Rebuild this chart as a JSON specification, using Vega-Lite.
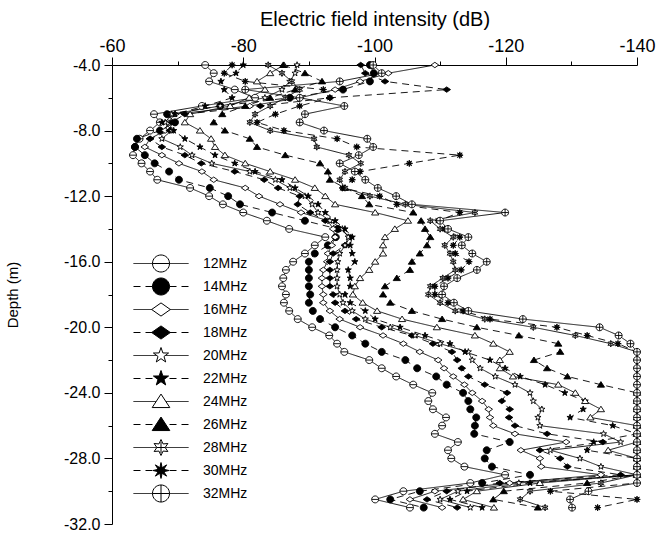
{
"$schema":"https://vega.github.io/schema/vega-lite/v6.json",
"width":525,"height":459,
"padding":{"left":5,"top":9,"right":2,"bottom":10},
"background":"white",
"config":{"view":{"stroke":null},"font":"Liberation Sans",
"locale":{"number":{"decimal":".","thousands":",","grouping":[3],"currency":["$",""],"minus":"-"}}},
"data":{"values":[
{"f":"12MHz","d":-4,"e":-74.2},{"f":"12MHz","d":-4.5,"e":-75.5},{"f":"12MHz","d":-5,"e":-74.8},{"f":"12MHz","d":-5.5,"e":-78.7},{"f":"12MHz","d":-6,"e":-81.8},{"f":"12MHz","d":-6.5,"e":-73.7},{"f":"12MHz","d":-7,"e":-66.4},{"f":"12MHz","d":-7.5,"e":-67.3},{"f":"12MHz","d":-8,"e":-65.8},{"f":"12MHz","d":-8.5,"e":-64.2},{"f":"12MHz","d":-9,"e":-63.5},{"f":"12MHz","d":-9.5,"e":-63.2},{"f":"12MHz","d":-10,"e":-64.5},{"f":"12MHz","d":-10.5,"e":-65.8},{"f":"12MHz","d":-11,"e":-66.9},{"f":"12MHz","d":-11.5,"e":-71.9},{"f":"12MHz","d":-12,"e":-74.8},{"f":"12MHz","d":-12.5,"e":-76.9},{"f":"12MHz","d":-13,"e":-80.0},{"f":"12MHz","d":-13.5,"e":-83.6},{"f":"12MHz","d":-14,"e":-87.0},{"f":"12MHz","d":-14.5,"e":-92.5},{"f":"12MHz","d":-15,"e":-90.9},{"f":"12MHz","d":-15.5,"e":-89.4},{"f":"12MHz","d":-16,"e":-87.6},{"f":"12MHz","d":-16.5,"e":-86.5},{"f":"12MHz","d":-17,"e":-86.1},{"f":"12MHz","d":-17.5,"e":-85.9},{"f":"12MHz","d":-18,"e":-86.5},{"f":"12MHz","d":-18.5,"e":-86.2},{"f":"12MHz","d":-19,"e":-87.0},{"f":"12MHz","d":-19.5,"e":-88.3},{"f":"12MHz","d":-20,"e":-90.5},{"f":"12MHz","d":-20.5,"e":-93.1},{"f":"12MHz","d":-21,"e":-94.3},{"f":"12MHz","d":-21.5,"e":-95.4},{"f":"12MHz","d":-22,"e":-99.2},{"f":"12MHz","d":-22.5,"e":-101.1},{"f":"12MHz","d":-23,"e":-103.3},{"f":"12MHz","d":-23.5,"e":-105.9},{"f":"12MHz","d":-24,"e":-108.8},{"f":"12MHz","d":-24.5,"e":-108.2},{"f":"12MHz","d":-25,"e":-108.9},{"f":"12MHz","d":-25.5,"e":-110.9},{"f":"12MHz","d":-26,"e":-110.3},{"f":"12MHz","d":-26.5,"e":-109.2},{"f":"12MHz","d":-27,"e":-112.7},{"f":"12MHz","d":-27.5,"e":-111.2},{"f":"12MHz","d":-28,"e":-111.7},{"f":"12MHz","d":-28.5,"e":-113.7},{"f":"12MHz","d":-29,"e":-119.9},{"f":"12MHz","d":-29.5,"e":-114.6},{"f":"12MHz","d":-30,"e":-104.4},{"f":"12MHz","d":-30.5,"e":-100.1},{"f":"12MHz","d":-31,"e":-105.4},
{"f":"14MHz","d":-4,"e":-99.3},{"f":"14MHz","d":-4.5,"e":-99.9},{"f":"14MHz","d":-5,"e":-99.3},{"f":"14MHz","d":-5.5,"e":-95.2},{"f":"14MHz","d":-6,"e":-87.1},{"f":"14MHz","d":-6.5,"e":-76.5},{"f":"14MHz","d":-7,"e":-68.4},{"f":"14MHz","d":-7.5,"e":-69.6},{"f":"14MHz","d":-8,"e":-67.3},{"f":"14MHz","d":-8.5,"e":-63.8},{"f":"14MHz","d":-9,"e":-63.5},{"f":"14MHz","d":-9.5,"e":-65.0},{"f":"14MHz","d":-10,"e":-66.5},{"f":"14MHz","d":-10.5,"e":-68.7},{"f":"14MHz","d":-11,"e":-70.2},{"f":"14MHz","d":-11.5,"e":-74.9},{"f":"14MHz","d":-12,"e":-77.7},{"f":"14MHz","d":-12.5,"e":-79.5},{"f":"14MHz","d":-13,"e":-84.4},{"f":"14MHz","d":-13.5,"e":-89.4},{"f":"14MHz","d":-14,"e":-94.4},{"f":"14MHz","d":-14.5,"e":-94.1},{"f":"14MHz","d":-15,"e":-92.9},{"f":"14MHz","d":-15.5,"e":-90.9},{"f":"14MHz","d":-16,"e":-90.0},{"f":"14MHz","d":-16.5,"e":-90.0},{"f":"14MHz","d":-17,"e":-90.0},{"f":"14MHz","d":-17.5,"e":-90.0},{"f":"14MHz","d":-18,"e":-90.2},{"f":"14MHz","d":-18.5,"e":-90.0},{"f":"14MHz","d":-19,"e":-90.6},{"f":"14MHz","d":-19.5,"e":-91.7},{"f":"14MHz","d":-20,"e":-94.0},{"f":"14MHz","d":-20.5,"e":-96.6},{"f":"14MHz","d":-21,"e":-98.6},{"f":"14MHz","d":-21.5,"e":-101.1},{"f":"14MHz","d":-22,"e":-104.7},{"f":"14MHz","d":-22.5,"e":-106.5},{"f":"14MHz","d":-23,"e":-109.4},{"f":"14MHz","d":-23.5,"e":-111.0},{"f":"14MHz","d":-24,"e":-113.5},{"f":"14MHz","d":-24.5,"e":-114.3},{"f":"14MHz","d":-25,"e":-114.6},{"f":"14MHz","d":-25.5,"e":-115.5},{"f":"14MHz","d":-26,"e":-115.3},{"f":"14MHz","d":-26.5,"e":-115.2},{"f":"14MHz","d":-27,"e":-120.6},{"f":"14MHz","d":-27.5,"e":-117.1},{"f":"14MHz","d":-28,"e":-116.8},{"f":"14MHz","d":-28.5,"e":-117.9},{"f":"14MHz","d":-29,"e":-123.7},{"f":"14MHz","d":-29.5,"e":-116.4},{"f":"14MHz","d":-30,"e":-106.9},{"f":"14MHz","d":-30.5,"e":-102.4},{"f":"14MHz","d":-31,"e":-107.5},
{"f":"16MHz","d":-4,"e":-109.2},{"f":"16MHz","d":-4.5,"e":-102.1},{"f":"16MHz","d":-5,"e":-97.8},{"f":"16MHz","d":-5.5,"e":-94.0},{"f":"16MHz","d":-6,"e":-88.6},{"f":"16MHz","d":-6.5,"e":-81.0},{"f":"16MHz","d":-7,"e":-69.6},{"f":"16MHz","d":-7.5,"e":-68.5},{"f":"16MHz","d":-8,"e":-68.1},{"f":"16MHz","d":-8.5,"e":-65.8},{"f":"16MHz","d":-9,"e":-65.0},{"f":"16MHz","d":-9.5,"e":-67.6},{"f":"16MHz","d":-10,"e":-70.2},{"f":"16MHz","d":-10.5,"e":-73.7},{"f":"16MHz","d":-11,"e":-75.5},{"f":"16MHz","d":-11.5,"e":-80.3},{"f":"16MHz","d":-12,"e":-82.4},{"f":"16MHz","d":-12.5,"e":-85.6},{"f":"16MHz","d":-13,"e":-88.8},{"f":"16MHz","d":-13.5,"e":-92.9},{"f":"16MHz","d":-14,"e":-93.7},{"f":"16MHz","d":-14.5,"e":-94.0},{"f":"16MHz","d":-15,"e":-93.5},{"f":"16MHz","d":-15.5,"e":-92.9},{"f":"16MHz","d":-16,"e":-92.8},{"f":"16MHz","d":-16.5,"e":-92.2},{"f":"16MHz","d":-17,"e":-92.0},{"f":"16MHz","d":-17.5,"e":-92.0},{"f":"16MHz","d":-18,"e":-92.2},{"f":"16MHz","d":-18.5,"e":-92.2},{"f":"16MHz","d":-19,"e":-93.2},{"f":"16MHz","d":-19.5,"e":-94.7},{"f":"16MHz","d":-20,"e":-97.8},{"f":"16MHz","d":-20.5,"e":-101.3},{"f":"16MHz","d":-21,"e":-104.4},{"f":"16MHz","d":-21.5,"e":-106.9},{"f":"16MHz","d":-22,"e":-109.7},{"f":"16MHz","d":-22.5,"e":-110.6},{"f":"16MHz","d":-23,"e":-112.0},{"f":"16MHz","d":-23.5,"e":-113.7},{"f":"16MHz","d":-24,"e":-114.9},{"f":"16MHz","d":-24.5,"e":-116.4},{"f":"16MHz","d":-25,"e":-117.4},{"f":"16MHz","d":-25.5,"e":-117.6},{"f":"16MHz","d":-26,"e":-118.1},{"f":"16MHz","d":-26.5,"e":-121.4},{"f":"16MHz","d":-27,"e":-129.2},{"f":"16MHz","d":-27.5,"e":-122.3},{"f":"16MHz","d":-28,"e":-125.2},{"f":"16MHz","d":-28.5,"e":-125.4},{"f":"16MHz","d":-29,"e":-134.5},{"f":"16MHz","d":-29.5,"e":-120.6},{"f":"16MHz","d":-30,"e":-109.2},{"f":"16MHz","d":-30.5,"e":-105.4},{"f":"16MHz","d":-31,"e":-110.3},
{"f":"18MHz","d":-4,"e":-97.9},{"f":"18MHz","d":-4.5,"e":-98.6},{"f":"18MHz","d":-5,"e":-101.6},{"f":"18MHz","d":-5.5,"e":-111.0},{"f":"18MHz","d":-6,"e":-93.2},{"f":"18MHz","d":-6.5,"e":-82.6},{"f":"18MHz","d":-7,"e":-71.1},{"f":"18MHz","d":-7.5,"e":-69.1},{"f":"18MHz","d":-8,"e":-68.8},{"f":"18MHz","d":-8.5,"e":-65.8},{"f":"18MHz","d":-9,"e":-67.6},{"f":"18MHz","d":-9.5,"e":-71.1},{"f":"18MHz","d":-10,"e":-73.6},{"f":"18MHz","d":-10.5,"e":-78.7},{"f":"18MHz","d":-11,"e":-83.2},{"f":"18MHz","d":-11.5,"e":-85.3},{"f":"18MHz","d":-12,"e":-88.6},{"f":"18MHz","d":-12.5,"e":-88.3},{"f":"18MHz","d":-13,"e":-90.2},{"f":"18MHz","d":-13.5,"e":-92.5},{"f":"18MHz","d":-14,"e":-94.7},{"f":"18MHz","d":-14.5,"e":-96.3},{"f":"18MHz","d":-15,"e":-95.5},{"f":"18MHz","d":-15.5,"e":-93.7},{"f":"18MHz","d":-16,"e":-93.2},{"f":"18MHz","d":-16.5,"e":-93.2},{"f":"18MHz","d":-17,"e":-93.2},{"f":"18MHz","d":-17.5,"e":-93.2},{"f":"18MHz","d":-18,"e":-93.7},{"f":"18MHz","d":-18.5,"e":-94.0},{"f":"18MHz","d":-19,"e":-95.5},{"f":"18MHz","d":-19.5,"e":-97.2},{"f":"18MHz","d":-20,"e":-101.1},{"f":"18MHz","d":-20.5,"e":-105.7},{"f":"18MHz","d":-21,"e":-108.9},{"f":"18MHz","d":-21.5,"e":-111.8},{"f":"18MHz","d":-22,"e":-112.6},{"f":"18MHz","d":-22.5,"e":-113.3},{"f":"18MHz","d":-23,"e":-114.3},{"f":"18MHz","d":-23.5,"e":-116.8},{"f":"18MHz","d":-24,"e":-120.2},{"f":"18MHz","d":-24.5,"e":-119.4},{"f":"18MHz","d":-25,"e":-120.6},{"f":"18MHz","d":-25.5,"e":-120.5},{"f":"18MHz","d":-26,"e":-121.4},{"f":"18MHz","d":-26.5,"e":-126.3},{"f":"18MHz","d":-27,"e":-134.8},{"f":"18MHz","d":-27.5,"e":-125.2},{"f":"18MHz","d":-28,"e":-128.3},{"f":"18MHz","d":-28.5,"e":-129.4},{"f":"18MHz","d":-29,"e":-137.5},{"f":"18MHz","d":-29.5,"e":-119.1},{"f":"18MHz","d":-30,"e":-111.0},{"f":"18MHz","d":-30.5,"e":-108.0},{"f":"18MHz","d":-31,"e":-112.6},
{"f":"20MHz","d":-4,"e":-88.2},{"f":"20MHz","d":-4.5,"e":-87.9},{"f":"20MHz","d":-5,"e":-87.1},{"f":"20MHz","d":-5.5,"e":-85.9},{"f":"20MHz","d":-6,"e":-83.3},{"f":"20MHz","d":-6.5,"e":-76.5},{"f":"20MHz","d":-7,"e":-69.1},{"f":"20MHz","d":-7.5,"e":-68.1},{"f":"20MHz","d":-8,"e":-69.1},{"f":"20MHz","d":-8.5,"e":-67.6},{"f":"20MHz","d":-9,"e":-70.4},{"f":"20MHz","d":-9.5,"e":-72.2},{"f":"20MHz","d":-10,"e":-75.2},{"f":"20MHz","d":-10.5,"e":-81.0},{"f":"20MHz","d":-11,"e":-84.9},{"f":"20MHz","d":-11.5,"e":-87.1},{"f":"20MHz","d":-12,"e":-89.4},{"f":"20MHz","d":-12.5,"e":-90.5},{"f":"20MHz","d":-13,"e":-91.4},{"f":"20MHz","d":-13.5,"e":-93.2},{"f":"20MHz","d":-14,"e":-95.1},{"f":"20MHz","d":-14.5,"e":-96.0},{"f":"20MHz","d":-15,"e":-95.5},{"f":"20MHz","d":-15.5,"e":-94.7},{"f":"20MHz","d":-16,"e":-94.4},{"f":"20MHz","d":-16.5,"e":-94.3},{"f":"20MHz","d":-17,"e":-94.3},{"f":"20MHz","d":-17.5,"e":-94.3},{"f":"20MHz","d":-18,"e":-94.7},{"f":"20MHz","d":-18.5,"e":-95.2},{"f":"20MHz","d":-19,"e":-96.6},{"f":"20MHz","d":-19.5,"e":-98.6},{"f":"20MHz","d":-20,"e":-102.4},{"f":"20MHz","d":-20.5,"e":-106.2},{"f":"20MHz","d":-21,"e":-110.0},{"f":"20MHz","d":-21.5,"e":-114.3},{"f":"20MHz","d":-22,"e":-114.9},{"f":"20MHz","d":-22.5,"e":-116.1},{"f":"20MHz","d":-23,"e":-118.4},{"f":"20MHz","d":-23.5,"e":-121.4},{"f":"20MHz","d":-24,"e":-123.7},{"f":"20MHz","d":-24.5,"e":-124.2},{"f":"20MHz","d":-25,"e":-125.5},{"f":"20MHz","d":-25.5,"e":-124.9},{"f":"20MHz","d":-26,"e":-125.2},{"f":"20MHz","d":-26.5,"e":-134.9},{"f":"20MHz","d":-27,"e":-137.5},{"f":"20MHz","d":-27.5,"e":-126.8},{"f":"20MHz","d":-28,"e":-131.3},{"f":"20MHz","d":-28.5,"e":-134.5},{"f":"20MHz","d":-29,"e":-140.0},{"f":"20MHz","d":-29.5,"e":-122.0},{"f":"20MHz","d":-30,"e":-112.7},{"f":"20MHz","d":-30.5,"e":-110.0},{"f":"20MHz","d":-31,"e":-114.6},
{"f":"22MHz","d":-4,"e":-80.0},{"f":"22MHz","d":-4.5,"e":-78.9},{"f":"22MHz","d":-5,"e":-76.6},{"f":"22MHz","d":-5.5,"e":-77.1},{"f":"22MHz","d":-6,"e":-78.3},{"f":"22MHz","d":-6.5,"e":-74.2},{"f":"22MHz","d":-7,"e":-69.6},{"f":"22MHz","d":-7.5,"e":-67.6},{"f":"22MHz","d":-8,"e":-69.4},{"f":"22MHz","d":-8.5,"e":-71.1},{"f":"22MHz","d":-9,"e":-73.4},{"f":"22MHz","d":-9.5,"e":-75.7},{"f":"22MHz","d":-10,"e":-78.7},{"f":"22MHz","d":-10.5,"e":-81.8},{"f":"22MHz","d":-11,"e":-85.9},{"f":"22MHz","d":-11.5,"e":-87.9},{"f":"22MHz","d":-12,"e":-89.9},{"f":"22MHz","d":-12.5,"e":-91.4},{"f":"22MHz","d":-13,"e":-92.5},{"f":"22MHz","d":-13.5,"e":-94.0},{"f":"22MHz","d":-14,"e":-95.5},{"f":"22MHz","d":-14.5,"e":-96.6},{"f":"22MHz","d":-15,"e":-96.3},{"f":"22MHz","d":-15.5,"e":-96.6},{"f":"22MHz","d":-16,"e":-97.0},{"f":"22MHz","d":-16.5,"e":-96.0},{"f":"22MHz","d":-17,"e":-96.3},{"f":"22MHz","d":-17.5,"e":-96.3},{"f":"22MHz","d":-18,"e":-95.5},{"f":"22MHz","d":-18.5,"e":-96.3},{"f":"22MHz","d":-19,"e":-98.6},{"f":"22MHz","d":-19.5,"e":-100.1},{"f":"22MHz","d":-20,"e":-103.9},{"f":"22MHz","d":-20.5,"e":-107.7},{"f":"22MHz","d":-21,"e":-111.5},{"f":"22MHz","d":-21.5,"e":-113.8},{"f":"22MHz","d":-22,"e":-117.6},{"f":"22MHz","d":-22.5,"e":-119.9},{"f":"22MHz","d":-23,"e":-122.2},{"f":"22MHz","d":-23.5,"e":-126.0},{"f":"22MHz","d":-24,"e":-129.0},{"f":"22MHz","d":-24.5,"e":-132.1},{"f":"22MHz","d":-25,"e":-131.8},{"f":"22MHz","d":-25.5,"e":-129.8},{"f":"22MHz","d":-26,"e":-136.3},{"f":"22MHz","d":-26.5,"e":-140.0},{"f":"22MHz","d":-27,"e":-133.4},{"f":"22MHz","d":-27.5,"e":-132.4},{"f":"22MHz","d":-28,"e":-140.0},{"f":"22MHz","d":-28.5,"e":-140.0},{"f":"22MHz","d":-29,"e":-140.0},{"f":"22MHz","d":-29.5,"e":-123.7},{"f":"22MHz","d":-30,"e":-114.1},{"f":"22MHz","d":-30.5,"e":-111.5},{"f":"22MHz","d":-31,"e":-116.4},
{"f":"24MHz","d":-4,"e":-86.2},{"f":"24MHz","d":-4.5,"e":-84.1},{"f":"24MHz","d":-5,"e":-82.1},{"f":"24MHz","d":-5.5,"e":-83.3},{"f":"24MHz","d":-6,"e":-80.9},{"f":"24MHz","d":-6.5,"e":-78.0},{"f":"24MHz","d":-7,"e":-71.9},{"f":"24MHz","d":-7.5,"e":-71.1},{"f":"24MHz","d":-8,"e":-73.4},{"f":"24MHz","d":-8.5,"e":-75.1},{"f":"24MHz","d":-9,"e":-75.7},{"f":"24MHz","d":-9.5,"e":-77.2},{"f":"24MHz","d":-10,"e":-80.3},{"f":"24MHz","d":-10.5,"e":-84.1},{"f":"24MHz","d":-11,"e":-87.9},{"f":"24MHz","d":-11.5,"e":-90.9},{"f":"24MHz","d":-12,"e":-92.5},{"f":"24MHz","d":-12.5,"e":-94.0},{"f":"24MHz","d":-13,"e":-100.1},{"f":"24MHz","d":-13.5,"e":-105.1},{"f":"24MHz","d":-14,"e":-103.1},{"f":"24MHz","d":-14.5,"e":-101.6},{"f":"24MHz","d":-15,"e":-101.3},{"f":"24MHz","d":-15.5,"e":-101.3},{"f":"24MHz","d":-16,"e":-100.1},{"f":"24MHz","d":-16.5,"e":-99.2},{"f":"24MHz","d":-17,"e":-97.8},{"f":"24MHz","d":-17.5,"e":-97.0},{"f":"24MHz","d":-18,"e":-96.7},{"f":"24MHz","d":-18.5,"e":-98.2},{"f":"24MHz","d":-19,"e":-100.4},{"f":"24MHz","d":-19.5,"e":-104.2},{"f":"24MHz","d":-20,"e":-109.5},{"f":"24MHz","d":-20.5,"e":-115.3},{"f":"24MHz","d":-21,"e":-118.1},{"f":"24MHz","d":-21.5,"e":-120.6},{"f":"24MHz","d":-22,"e":-119.1},{"f":"24MHz","d":-22.5,"e":-119.1},{"f":"24MHz","d":-23,"e":-121.1},{"f":"24MHz","d":-23.5,"e":-128.0},{"f":"24MHz","d":-24,"e":-130.6},{"f":"24MHz","d":-24.5,"e":-132.1},{"f":"24MHz","d":-25,"e":-134.5},{"f":"24MHz","d":-25.5,"e":-132.9},{"f":"24MHz","d":-26,"e":-140.0},{"f":"24MHz","d":-26.5,"e":-140.0},{"f":"24MHz","d":-27,"e":-140.0},{"f":"24MHz","d":-27.5,"e":-135.6},{"f":"24MHz","d":-28,"e":-140.0},{"f":"24MHz","d":-28.5,"e":-140.0},{"f":"24MHz","d":-29,"e":-140.0},{"f":"24MHz","d":-29.5,"e":-125.2},{"f":"24MHz","d":-30,"e":-115.6},{"f":"24MHz","d":-30.5,"e":-113.5},{"f":"24MHz","d":-31,"e":-118.2},
{"f":"26MHz","d":-4,"e":-86.1},{"f":"26MHz","d":-4.5,"e":-89.4},{"f":"26MHz","d":-5,"e":-92.0},{"f":"26MHz","d":-5.5,"e":-87.9},{"f":"26MHz","d":-6,"e":-84.1},{"f":"26MHz","d":-6.5,"e":-80.3},{"f":"26MHz","d":-7,"e":-76.8},{"f":"26MHz","d":-7.5,"e":-75.5},{"f":"26MHz","d":-8,"e":-77.2},{"f":"26MHz","d":-8.5,"e":-81.0},{"f":"26MHz","d":-9,"e":-82.1},{"f":"26MHz","d":-9.5,"e":-86.4},{"f":"26MHz","d":-10,"e":-91.7},{"f":"26MHz","d":-10.5,"e":-92.9},{"f":"26MHz","d":-11,"e":-93.2},{"f":"26MHz","d":-11.5,"e":-95.5},{"f":"26MHz","d":-12,"e":-98.1},{"f":"26MHz","d":-12.5,"e":-99.2},{"f":"26MHz","d":-13,"e":-105.9},{"f":"26MHz","d":-13.5,"e":-107.1},{"f":"26MHz","d":-14,"e":-107.7},{"f":"26MHz","d":-14.5,"e":-108.5},{"f":"26MHz","d":-15,"e":-108.0},{"f":"26MHz","d":-15.5,"e":-106.9},{"f":"26MHz","d":-16,"e":-105.7},{"f":"26MHz","d":-16.5,"e":-105.4},{"f":"26MHz","d":-17,"e":-103.4},{"f":"26MHz","d":-17.5,"e":-101.6},{"f":"26MHz","d":-18,"e":-101.3},{"f":"26MHz","d":-18.5,"e":-102.4},{"f":"26MHz","d":-19,"e":-105.7},{"f":"26MHz","d":-19.5,"e":-110.3},{"f":"26MHz","d":-20,"e":-115.6},{"f":"26MHz","d":-20.5,"e":-122.0},{"f":"26MHz","d":-21,"e":-128.0},{"f":"26MHz","d":-21.5,"e":-128.3},{"f":"26MHz","d":-22,"e":-124.3},{"f":"26MHz","d":-22.5,"e":-126.3},{"f":"26MHz","d":-23,"e":-129.4},{"f":"26MHz","d":-23.5,"e":-134.5},{"f":"26MHz","d":-24,"e":-140},{"f":"26MHz","d":-24.5,"e":-140},{"f":"26MHz","d":-25,"e":-140},{"f":"26MHz","d":-25.5,"e":-140},{"f":"26MHz","d":-26,"e":-140},{"f":"26MHz","d":-26.5,"e":-140},{"f":"26MHz","d":-27,"e":-140},{"f":"26MHz","d":-27.5,"e":-140},{"f":"26MHz","d":-28,"e":-140},{"f":"26MHz","d":-28.5,"e":-140},{"f":"26MHz","d":-29,"e":-140},{"f":"26MHz","d":-29.5,"e":-132.4},{"f":"26MHz","d":-30,"e":-119.7},{"f":"26MHz","d":-30.5,"e":-118.1},{"f":"26MHz","d":-31,"e":-124.9},
{"f":"28MHz","d":-4,"e":-83.8},{"f":"28MHz","d":-4.5,"e":-85.9},{"f":"28MHz","d":-5,"e":-87.4},{"f":"28MHz","d":-5.5,"e":-88.6},{"f":"28MHz","d":-6,"e":-86.4},{"f":"28MHz","d":-6.5,"e":-84.1},{"f":"28MHz","d":-7,"e":-81.8},{"f":"28MHz","d":-7.5,"e":-81.0},{"f":"28MHz","d":-8,"e":-84.1},{"f":"28MHz","d":-8.5,"e":-90.8},{"f":"28MHz","d":-9,"e":-91.2},{"f":"28MHz","d":-9.5,"e":-96.1},{"f":"28MHz","d":-10,"e":-97.9},{"f":"28MHz","d":-10.5,"e":-95.5},{"f":"28MHz","d":-11,"e":-94.7},{"f":"28MHz","d":-11.5,"e":-95.5},{"f":"28MHz","d":-12,"e":-99.3},{"f":"28MHz","d":-12.5,"e":-104.7},{"f":"28MHz","d":-13,"e":-115.3},{"f":"28MHz","d":-13.5,"e":-108.5},{"f":"28MHz","d":-14,"e":-110.0},{"f":"28MHz","d":-14.5,"e":-112.0},{"f":"28MHz","d":-15,"e":-110.7},{"f":"28MHz","d":-15.5,"e":-111.5},{"f":"28MHz","d":-16,"e":-112.0},{"f":"28MHz","d":-16.5,"e":-112.3},{"f":"28MHz","d":-17,"e":-110.4},{"f":"28MHz","d":-17.5,"e":-108.5},{"f":"28MHz","d":-18,"e":-108.2},{"f":"28MHz","d":-18.5,"e":-110.0},{"f":"28MHz","d":-19,"e":-112.3},{"f":"28MHz","d":-19.5,"e":-116.8},{"f":"28MHz","d":-20,"e":-124.2},{"f":"28MHz","d":-20.5,"e":-130.6},{"f":"28MHz","d":-21,"e":-136.0},{"f":"28MHz","d":-21.5,"e":-140},{"f":"28MHz","d":-22,"e":-140},{"f":"28MHz","d":-22.5,"e":-140},{"f":"28MHz","d":-23,"e":-140},{"f":"28MHz","d":-23.5,"e":-140},{"f":"28MHz","d":-24,"e":-140},{"f":"28MHz","d":-24.5,"e":-140},{"f":"28MHz","d":-25,"e":-140},{"f":"28MHz","d":-25.5,"e":-140},{"f":"28MHz","d":-26,"e":-140},{"f":"28MHz","d":-26.5,"e":-140},{"f":"28MHz","d":-27,"e":-140},{"f":"28MHz","d":-27.5,"e":-140},{"f":"28MHz","d":-28,"e":-140},{"f":"28MHz","d":-28.5,"e":-140},{"f":"28MHz","d":-29,"e":-140},{"f":"28MHz","d":-29.5,"e":-134.5},{"f":"28MHz","d":-30,"e":-123.7},{"f":"28MHz","d":-30.5,"e":-122.2},{"f":"28MHz","d":-31,"e":-126.0},
{"f":"30MHz","d":-4,"e":-78.3},{"f":"30MHz","d":-4.5,"e":-77.1},{"f":"30MHz","d":-5,"e":-80.3},{"f":"30MHz","d":-5.5,"e":-92.2},{"f":"30MHz","d":-6,"e":-93.2},{"f":"30MHz","d":-6.5,"e":-88.6},{"f":"30MHz","d":-7,"e":-84.9},{"f":"30MHz","d":-7.5,"e":-82.1},{"f":"30MHz","d":-8,"e":-86.2},{"f":"30MHz","d":-8.5,"e":-94.3},{"f":"30MHz","d":-9,"e":-97.3},{"f":"30MHz","d":-9.5,"e":-113.0},{"f":"30MHz","d":-10,"e":-105.3},{"f":"30MHz","d":-10.5,"e":-97.8},{"f":"30MHz","d":-11,"e":-96.6},{"f":"30MHz","d":-11.5,"e":-95.1},{"f":"30MHz","d":-12,"e":-100.8},{"f":"30MHz","d":-12.5,"e":-103.4},{"f":"30MHz","d":-13,"e":-113.0},{"f":"30MHz","d":-13.5,"e":-109.7},{"f":"30MHz","d":-14,"e":-110.7},{"f":"30MHz","d":-14.5,"e":-113.0},{"f":"30MHz","d":-15,"e":-112.0},{"f":"30MHz","d":-15.5,"e":-112.3},{"f":"30MHz","d":-16,"e":-114.4},{"f":"30MHz","d":-16.5,"e":-113.2},{"f":"30MHz","d":-17,"e":-111.2},{"f":"30MHz","d":-17.5,"e":-109.2},{"f":"30MHz","d":-18,"e":-109.2},{"f":"30MHz","d":-18.5,"e":-111.2},{"f":"30MHz","d":-19,"e":-113.5},{"f":"30MHz","d":-19.5,"e":-117.6},{"f":"30MHz","d":-20,"e":-127.8},{"f":"30MHz","d":-20.5,"e":-132.4},{"f":"30MHz","d":-21,"e":-137.1},{"f":"30MHz","d":-21.5,"e":-140},{"f":"30MHz","d":-22,"e":-140},{"f":"30MHz","d":-22.5,"e":-140},{"f":"30MHz","d":-23,"e":-140},{"f":"30MHz","d":-23.5,"e":-140},{"f":"30MHz","d":-24,"e":-140},{"f":"30MHz","d":-24.5,"e":-140},{"f":"30MHz","d":-25,"e":-140},{"f":"30MHz","d":-25.5,"e":-140},{"f":"30MHz","d":-26,"e":-140},{"f":"30MHz","d":-26.5,"e":-140},{"f":"30MHz","d":-27,"e":-140},{"f":"30MHz","d":-27.5,"e":-140},{"f":"30MHz","d":-28,"e":-140},{"f":"30MHz","d":-28.5,"e":-140},{"f":"30MHz","d":-29,"e":-140},{"f":"30MHz","d":-29.5,"e":-140},{"f":"30MHz","d":-30,"e":-126.8},{"f":"30MHz","d":-30.5,"e":-140},{"f":"30MHz","d":-31,"e":-134.0},
{"f":"32MHz","d":-4,"e":-99.8},{"f":"32MHz","d":-4.5,"e":-101.1},{"f":"32MHz","d":-5,"e":-94.7},{"f":"32MHz","d":-5.5,"e":-80.3},{"f":"32MHz","d":-6,"e":-88.6},{"f":"32MHz","d":-6.5,"e":-95.4},{"f":"32MHz","d":-7,"e":-89.4},{"f":"32MHz","d":-7.5,"e":-88.6},{"f":"32MHz","d":-8,"e":-92.3},{"f":"32MHz","d":-8.5,"e":-98.9},{"f":"32MHz","d":-9,"e":-99.8},{"f":"32MHz","d":-9.5,"e":-97.6},{"f":"32MHz","d":-10,"e":-94.7},{"f":"32MHz","d":-10.5,"e":-97.0},{"f":"32MHz","d":-11,"e":-98.6},{"f":"32MHz","d":-11.5,"e":-100.5},{"f":"32MHz","d":-12,"e":-103.3},{"f":"32MHz","d":-12.5,"e":-105.7},{"f":"32MHz","d":-13,"e":-119.9},{"f":"32MHz","d":-13.5,"e":-110.0},{"f":"32MHz","d":-14,"e":-111.2},{"f":"32MHz","d":-14.5,"e":-114.3},{"f":"32MHz","d":-15,"e":-113.3},{"f":"32MHz","d":-15.5,"e":-114.9},{"f":"32MHz","d":-16,"e":-117.1},{"f":"32MHz","d":-16.5,"e":-115.6},{"f":"32MHz","d":-17,"e":-112.6},{"f":"32MHz","d":-17.5,"e":-110.6},{"f":"32MHz","d":-18,"e":-110.3},{"f":"32MHz","d":-18.5,"e":-112.1},{"f":"32MHz","d":-19,"e":-114.3},{"f":"32MHz","d":-19.5,"e":-122.6},{"f":"32MHz","d":-20,"e":-134.3},{"f":"32MHz","d":-20.5,"e":-137.2},{"f":"32MHz","d":-21,"e":-139.0},{"f":"32MHz","d":-21.5,"e":-140},{"f":"32MHz","d":-22,"e":-140},{"f":"32MHz","d":-22.5,"e":-140},{"f":"32MHz","d":-23,"e":-140},{"f":"32MHz","d":-23.5,"e":-140},{"f":"32MHz","d":-24,"e":-140},{"f":"32MHz","d":-24.5,"e":-140},{"f":"32MHz","d":-25,"e":-140},{"f":"32MHz","d":-25.5,"e":-140},{"f":"32MHz","d":-26,"e":-140},{"f":"32MHz","d":-26.5,"e":-140},{"f":"32MHz","d":-27,"e":-140},{"f":"32MHz","d":-27.5,"e":-140},{"f":"32MHz","d":-28,"e":-140},{"f":"32MHz","d":-28.5,"e":-140},{"f":"32MHz","d":-29,"e":-140},{"f":"32MHz","d":-29.5,"e":-140},{"f":"32MHz","d":-30,"e":-132.6},{"f":"32MHz","d":-30.5,"e":-129.8},{"f":"32MHz","d":-31,"e":-130.1}
]},
"encoding":{
"x":{"field":"e","type":"quantitative","scale":{"domain":[-140,-60],"reverse":true,"nice":false,"zero":false},
"axis":{"orient":"top","title":"Electric field intensity (dB)","values":[-140,-130,-120,-110,-100,-90,-80,-70,-60],"format":"d","labelExpr":"datum.value % 20 == 0 ? datum.label : ''","tickSize":{"condition":{"test":"datum.value % 20 == 0","value":8},"value":4},"grid":false,"labelFlush":false,"labelOverlap":false,"labelFontSize":18,"labelPadding":2,"titleFontSize":20,"titleFontWeight":"normal","titlePadding":8,"labelColor":"black","titleColor":"black","domainColor":"black","tickColor":"black","labelFont":"Liberation Sans","titleFont":"Liberation Sans"}},
"y":{"field":"d","type":"quantitative","scale":{"domain":[-32,-4],"nice":false,"zero":false},
"axis":{"title":"Depth (m)","values":[-32,-30,-28,-26,-24,-22,-20,-18,-16,-14,-12,-10,-8,-6,-4],"format":".1f","labelExpr":"datum.value % 4 == 0 ? datum.label : ''","tickSize":{"condition":{"test":"datum.value % 4 == 0","value":8},"value":4},"grid":false,"labelFlush":false,"labelOverlap":false,"labelFontSize":16,"labelPadding":4,"titleFontSize":15,"titleFontWeight":"normal","titlePadding":43,"labelColor":"black","titleColor":"black","domainColor":"black","tickColor":"black","labelFont":"Liberation Sans","titleFont":"Liberation Sans"}}
},
"layer":[
{"mark":{"type":"line","color":"black","strokeWidth":0.9},
"encoding":{"strokeDash":{"field":"f","type":"nominal","scale":{"range":[[1,0],[7,5],[1,0],[7,5],[1,0],[7,5],[1,0],[7,5],[1,0],[7,5],[1,0]]},
"legend":{"title":null,"orient":"none","legendX":21,"legendY":188,"padding":0,"clipHeight":21,"rowPadding":2,"symbolType":"stroke","symbolSize":3025,"symbolStrokeColor":"black","symbolStrokeWidth":1,"symbolOpacity":1,"labelFontSize":14,"labelOffset":14,"labelOpacity":0,"labelFont":"Liberation Sans"}},
"order":{"field":"d","sort":"descending"}}},
{"mark":{"type":"point","stroke":"black","strokeWidth":0.9,"opacity":1,"size":510},
"encoding":{
"shape":{"field":"f","type":"nominal","scale":{"domain":["12MHz","14MHz","16MHz","18MHz","20MHz","22MHz","24MHz","26MHz","28MHz","30MHz","32MHz"],
"range":["M0.31,0A0.31,0.31,0,1,1,-0.31,0A0.31,0.31,0,1,1,0.31,0ZM-0.31,0H0.31",
"M0.31,0A0.31,0.31,0,1,1,-0.31,0A0.31,0.31,0,1,1,0.31,0Z",
"M0,-0.24L0.34,0L0,0.24L-0.34,0Z",
"M0,-0.24L0.34,0L0,0.24L-0.34,0Z",
"M0,-0.29L0.068,-0.093L0.276,-0.09L0.109,0.036L0.171,0.235L0,0.115L-0.171,0.235L-0.109,0.036L-0.276,-0.09L-0.068,-0.093Z",
"M0,-0.29L0.068,-0.093L0.276,-0.09L0.109,0.036L0.171,0.235L0,0.115L-0.171,0.235L-0.109,0.036L-0.276,-0.09L-0.068,-0.093Z",
"M0,-0.27L0.32,0.22L-0.32,0.22Z",
"M0,-0.27L0.32,0.22L-0.32,0.22Z",
"M0,-0.29L0.075,-0.13L0.25,-0.145L0.15,0L0.25,0.145L0.075,0.13L0,0.29L-0.075,0.13L-0.25,0.145L-0.15,0L-0.25,-0.145L-0.075,-0.13ZM0,-0.2V0.2M-0.15,0H0.15",
"M0.29,0L0.102,0.042L0.205,0.205L0.042,0.102L0,0.29L-0.042,0.102L-0.205,0.205L-0.102,0.042L-0.29,0L-0.102,-0.042L-0.205,-0.205L-0.042,-0.102L0,-0.29L0.042,-0.102L0.205,-0.205L0.102,-0.042Z",
"M0.31,0A0.31,0.31,0,1,1,-0.31,0A0.31,0.31,0,1,1,0.31,0ZM0,-0.31V0.31M-0.31,0H0.31"]},
"legend":{"title":null,"orient":"none","legendX":21,"legendY":188,"padding":0,"clipHeight":21,"rowPadding":2,"symbolSize":3025,"symbolStrokeColor":"black","symbolStrokeWidth":1,"symbolOpacity":1,"labelFontSize":14,"labelOffset":14,"labelFont":"Liberation Sans","labelColor":"black",
"encode":{"symbols":{"update":{"stroke":{"value":"black"},"opacity":{"value":1}}}}}},
"fill":{"field":"f","type":"nominal","scale":{"domain":["12MHz","14MHz","16MHz","18MHz","20MHz","22MHz","24MHz","26MHz","28MHz","30MHz","32MHz"],"range":["white","black","white","black","white","black","white","black","white","black","white"]},
"legend":{"title":null,"orient":"none","legendX":21,"legendY":188,"padding":0,"clipHeight":21,"rowPadding":2,"symbolSize":3025,"symbolStrokeColor":"black","symbolStrokeWidth":1,"symbolOpacity":1,"labelFontSize":14,"labelOffset":14,"labelFont":"Liberation Sans","labelColor":"black",
"encode":{"symbols":{"update":{"stroke":{"value":"black"},"opacity":{"value":1}}}}}}
}}
]
}
